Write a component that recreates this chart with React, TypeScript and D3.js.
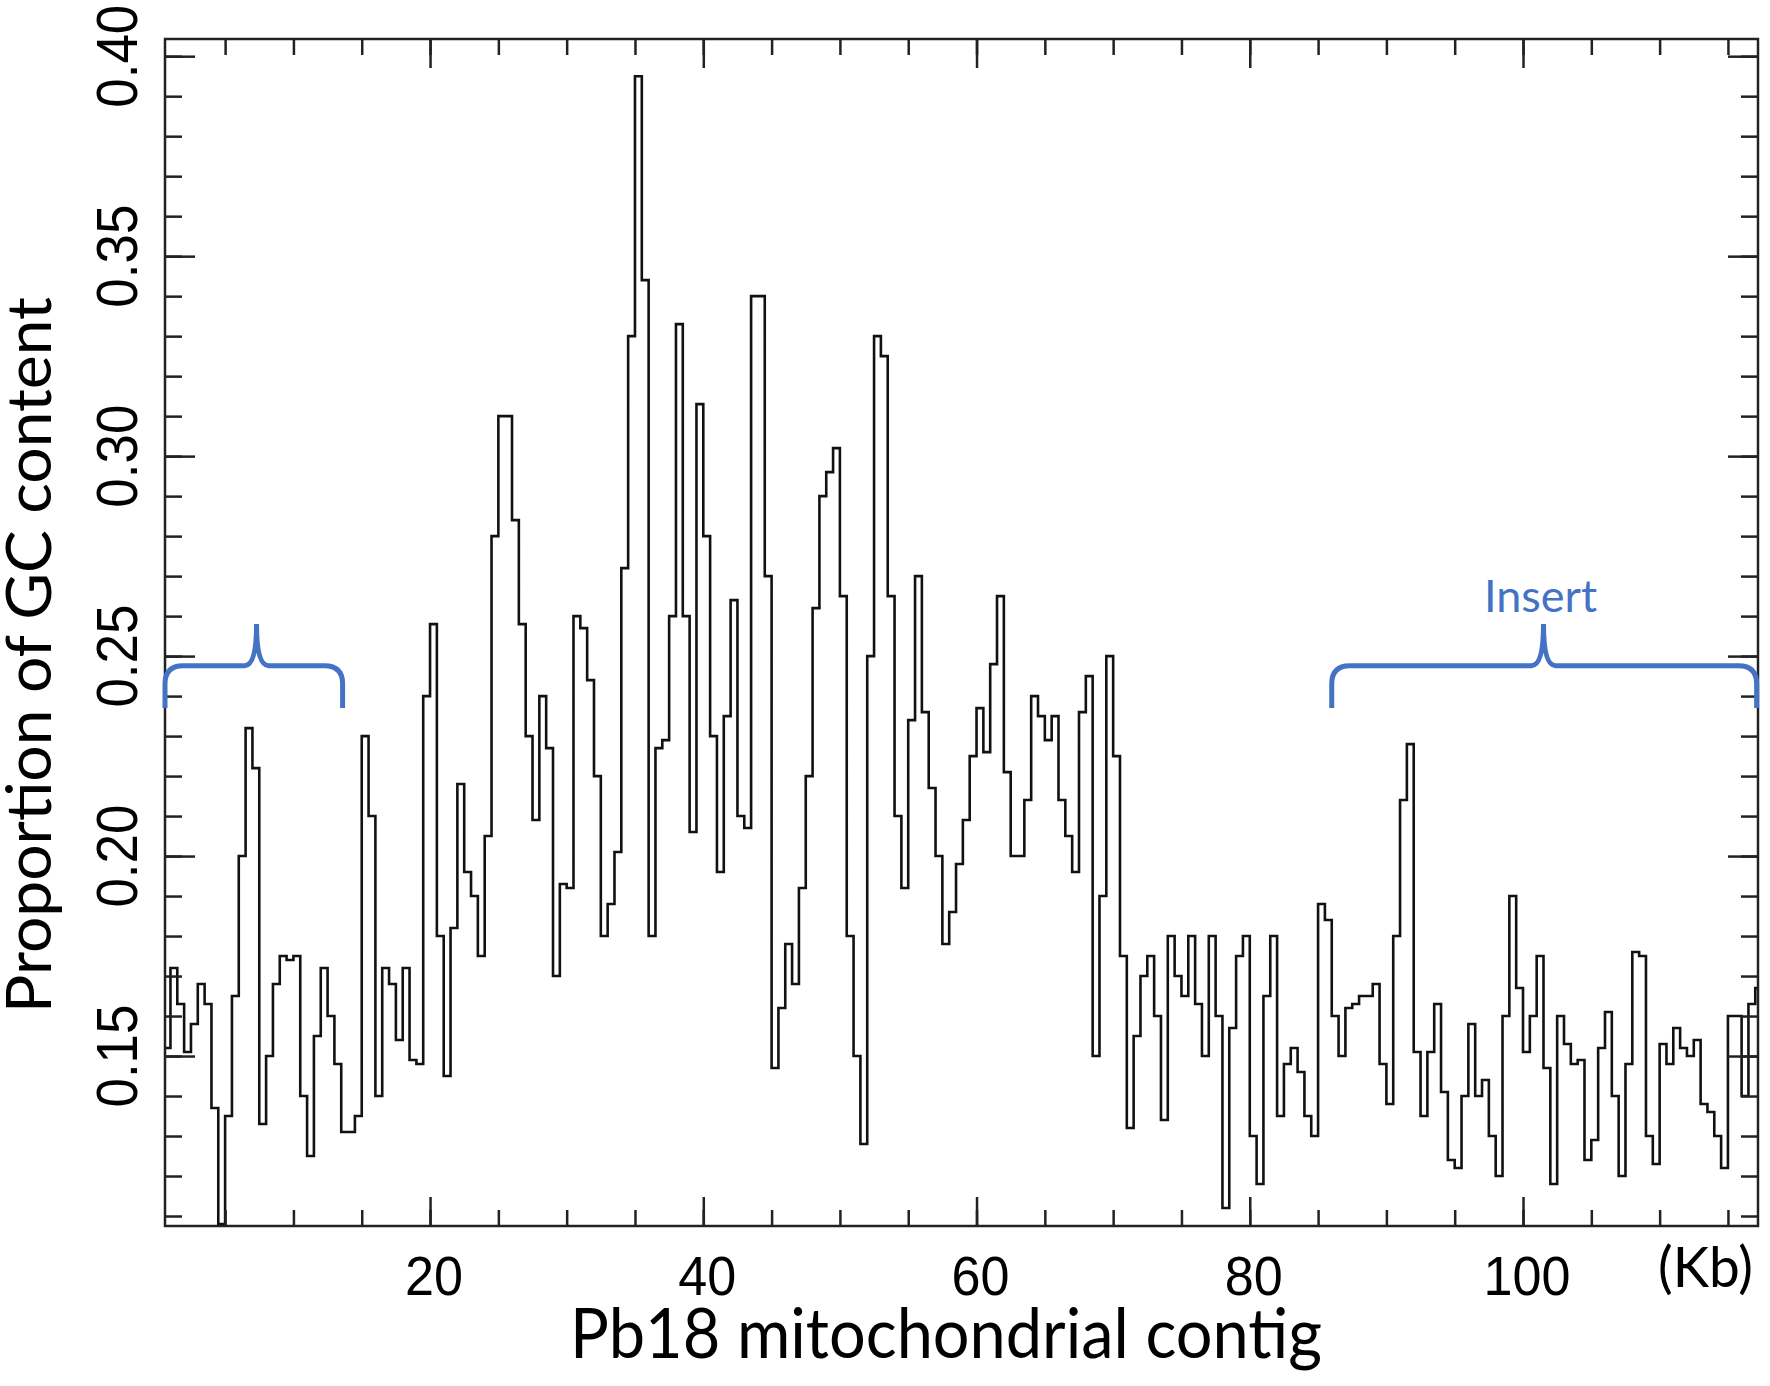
import React, { useEffect, useRef } from 'react';
import * as d3 from 'd3';

// GC proportion per 0.5 Kb window along the Pb18 mitochondrial contig
const gcStartKb = 0.5;
const windowStepKb = 0.5;
const gcContent = [
  0.152, 0.172, 0.163, 0.151, 0.158, 0.168, 0.163, 0.137, 0.108, 0.135,
  0.165, 0.200, 0.232, 0.222, 0.133, 0.150, 0.168, 0.175, 0.174, 0.175,
  0.140, 0.125, 0.155, 0.172, 0.160, 0.148, 0.131, 0.131, 0.135, 0.230,
  0.210, 0.140, 0.172, 0.168, 0.154, 0.172, 0.149, 0.148, 0.240, 0.258,
  0.180, 0.145, 0.182, 0.218, 0.196, 0.190, 0.175, 0.205, 0.280, 0.310,
  0.310, 0.284, 0.258, 0.230, 0.209, 0.240, 0.227, 0.170, 0.193, 0.192,
  0.260,
  0.257, 0.244, 0.220, 0.180, 0.188, 0.201, 0.272, 0.330, 0.395, 0.344,
  0.180, 0.227, 0.229, 0.260, 0.333, 0.260, 0.206, 0.313, 0.280, 0.230,
  0.196, 0.235, 0.264, 0.210, 0.207, 0.340, 0.340, 0.270, 0.147, 0.162,
  0.178, 0.168, 0.192, 0.220, 0.262, 0.290, 0.296, 0.302, 0.265, 0.180,
  0.150, 0.128, 0.250, 0.330, 0.325, 0.265, 0.210, 0.192, 0.234, 0.270,
  0.236, 0.217, 0.200, 0.178, 0.186, 0.198, 0.209, 0.225, 0.237, 0.226,
  0.248, 0.265, 0.221, 0.200, 0.200, 0.214, 0.240, 0.235, 0.229, 0.235,
  0.214, 0.205, 0.196, 0.236, 0.245, 0.150, 0.190, 0.250, 0.225, 0.175,
  0.132, 0.155, 0.170, 0.175, 0.160, 0.134, 0.180, 0.170, 0.165, 0.180,
  0.163, 0.150, 0.180, 0.160, 0.112, 0.157, 0.175, 0.180, 0.130, 0.118,
  0.165, 0.180, 0.135, 0.148, 0.152, 0.146, 0.135, 0.130, 0.188, 0.184,
  0.160, 0.150, 0.162, 0.163, 0.165, 0.165, 0.168, 0.148, 0.138, 0.180,
  0.214, 0.228, 0.151, 0.135, 0.151, 0.163, 0.141, 0.124, 0.122, 0.140,
  0.158, 0.140, 0.144, 0.130, 0.120, 0.160, 0.190, 0.167, 0.151, 0.160,
  0.175, 0.147, 0.118, 0.160, 0.153, 0.148, 0.149, 0.124, 0.129, 0.152,
  0.161, 0.140, 0.120, 0.148, 0.176, 0.175, 0.130, 0.123, 0.153, 0.148,
  0.157, 0.152, 0.150, 0.154, 0.138, 0.136, 0.130, 0.122, 0.160, 0.160,
  0.140, 0.163, 0.167,
];

const xDomainKb: [number, number] = [0.6, 117.2];
const yDomain: [number, number] = [0.1075, 0.4043];
const yLabelTicks = [0.15, 0.2, 0.25, 0.3, 0.35, 0.4];
const yMinorTicks = d3.range(11, 41).map(v => v / 100);
const xLabelTicks = [20, 40, 60, 80, 100];
const xMinorTicks = d3.range(5, 116, 5);

// curly brackets above the plot (Kb spans), the second one marks the insert
const brackets = [
  { from: 0.6, to: 13.6, tip: 7.3, label: '' },
  { from: 86.0, to: 117.1, tip: 101.5, label: 'Insert' },
];
const bracketArm = 0.2476;
const bracketEnd = 0.237;
const bracketTip = 0.258;
const bracketLabel = 0.261;

const W = 1770;
const H = 1386;
const margin = { top: 39, right: 12, bottom: 160, left: 165 };
const BLUE = '#4472C4';

const App: React.FC = () => {
  const svgRef = useRef<SVGSVGElement>(null);

  useEffect(() => {
    if (!svgRef.current) return;
    const svg = d3.select(svgRef.current);
    svg.selectAll('*').remove();

    const innerW = W - margin.left - margin.right;
    const innerH = H - margin.top - margin.bottom;

    const x = d3.scaleLinear().domain(xDomainKb).range([0, innerW]);
    const y = d3.scaleLinear().domain(yDomain).range([innerH, 0]);

    const g = svg.append('g').attr('transform', `translate(${margin.left},${margin.top})`);

    g.append('clipPath').attr('id', 'plot-clip')
      .append('rect').attr('width', innerW).attr('height', innerH);

    // GC trace, stepped
    const points = gcContent.map((v, i) => ({ kb: gcStartKb + i * windowStepKb, v }));
    points.push({ kb: gcStartKb + gcContent.length * windowStepKb, v: gcContent[gcContent.length - 1] });

    const line = d3.line<{ kb: number; v: number }>()
      .curve(d3.curveStepAfter)
      .x(d => x(d.kb))
      .y(d => y(d.v));

    g.append('path')
      .datum(points)
      .attr('clip-path', 'url(#plot-clip)')
      .attr('fill', 'none')
      .attr('stroke', '#111')
      .attr('stroke-width', 2.6)
      .attr('d', line);

    // inward ticks on all four sides
    const tickStyle = (sel: d3.Selection<SVGGElement, unknown, null, undefined>) => {
      sel.select('.domain').remove();
      sel.selectAll('line').attr('stroke', '#222').attr('stroke-width', 2.5);
      sel.selectAll('text').remove();
    };
    g.append('g').call(d3.axisLeft(y).tickValues(yMinorTicks).tickSize(-17)).call(tickStyle);
    g.append('g').call(d3.axisLeft(y).tickValues(yLabelTicks).tickSize(-30)).call(tickStyle);
    g.append('g').attr('transform', `translate(${innerW},0)`)
      .call(d3.axisRight(y).tickValues(yMinorTicks).tickSize(-17)).call(tickStyle);
    g.append('g').attr('transform', `translate(${innerW},0)`)
      .call(d3.axisRight(y).tickValues(yLabelTicks).tickSize(-30)).call(tickStyle);
    g.append('g').call(d3.axisTop(x).tickValues(xMinorTicks).tickSize(-16)).call(tickStyle);
    g.append('g').call(d3.axisTop(x).tickValues(xLabelTicks).tickSize(-29)).call(tickStyle);
    g.append('g').attr('transform', `translate(0,${innerH})`)
      .call(d3.axisBottom(x).tickValues(xMinorTicks).tickSize(-16)).call(tickStyle);
    g.append('g').attr('transform', `translate(0,${innerH})`)
      .call(d3.axisBottom(x).tickValues(xLabelTicks).tickSize(-29)).call(tickStyle);

    g.append('rect')
      .attr('width', innerW).attr('height', innerH)
      .attr('fill', 'none').attr('stroke', '#222').attr('stroke-width', 2.5);

    // tick labels
    const fmt = d3.format('.2f');
    g.selectAll('.ylab').data(yLabelTicks).join('text')
      .attr('class', 'ylab')
      .attr('transform', d => `translate(${137 - margin.left},${y(d)}) rotate(-90)`)
      .attr('text-anchor', 'middle')
      .attr('font-family', '"Liberation Sans", Arial, sans-serif')
      .attr('font-size', 57)
      .attr('textLength', 103)
      .attr('lengthAdjust', 'spacingAndGlyphs')
      .text(d => fmt(d));

    g.selectAll('.xlab').data(xLabelTicks).join('text')
      .attr('class', 'xlab')
      .attr('x', d => x(d) + 4)
      .attr('y', 1295 - margin.top)
      .attr('text-anchor', 'middle')
      .attr('font-family', '"Liberation Sans", Arial, sans-serif')
      .attr('font-size', 56)
      .attr('textLength', d => String(d).length * 29)
      .attr('lengthAdjust', 'spacingAndGlyphs')
      .text(d => d);

    g.append('text')
      .attr('x', 1753 - margin.left)
      .attr('y', 1287 - margin.top)
      .attr('text-anchor', 'end')
      .attr('font-family', 'Lato, sans-serif')
      .attr('font-size', 56)
      .attr('textLength', 95)
      .attr('lengthAdjust', 'spacingAndGlyphs')
      .text('(Kb)');

    // axis titles
    svg.append('text')
      .attr('x', 946)
      .attr('y', 1358)
      .attr('text-anchor', 'middle')
      .attr('font-family', 'Lato, sans-serif')
      .attr('font-size', 70)
      .attr('textLength', 752)
      .attr('lengthAdjust', 'spacingAndGlyphs')
      .text('Pb18 mitochondrial contig');

    svg.append('text')
      .attr('transform', 'translate(51,655) rotate(-90)')
      .attr('text-anchor', 'middle')
      .attr('font-family', 'Lato, sans-serif')
      .attr('font-size', 62)
      .attr('textLength', 716)
      .attr('lengthAdjust', 'spacingAndGlyphs')
      .text('Proportion of GC content');

    // brackets
    const r = 18;
    brackets.forEach(b => {
      const x1 = x(b.from), x2 = x(b.to), xt = x(b.tip);
      const ya = y(bracketArm), ye = y(bracketEnd), yt = y(bracketTip);
      const p = d3.path();
      p.moveTo(x1, ye);
      p.lineTo(x1, ya + r);
      p.quadraticCurveTo(x1, ya, x1 + r, ya);
      p.lineTo(xt - 12, ya);
      p.quadraticCurveTo(xt, ya, xt, yt);
      p.quadraticCurveTo(xt, ya, xt + 12, ya);
      p.lineTo(x2 - r, ya);
      p.quadraticCurveTo(x2, ya, x2, ya + r);
      p.lineTo(x2, ye);
      g.append('path')
        .attr('d', p.toString())
        .attr('fill', 'none')
        .attr('stroke', BLUE)
        .attr('stroke-width', 5);
      if (b.label) {
        g.append('text')
          .attr('x', xt - 3)
          .attr('y', y(bracketLabel))
          .attr('text-anchor', 'middle')
          .attr('font-family', 'Lato, sans-serif')
          .attr('font-size', 45)
          .attr('fill', BLUE)
          .text(b.label);
      }
    });
  }, []);

  return (
    <svg
      ref={svgRef}
      width={W}
      height={H}
      style={{ position: 'absolute', left: 0, top: 0, background: '#fff' }}
    />
  );
};

export default App;
